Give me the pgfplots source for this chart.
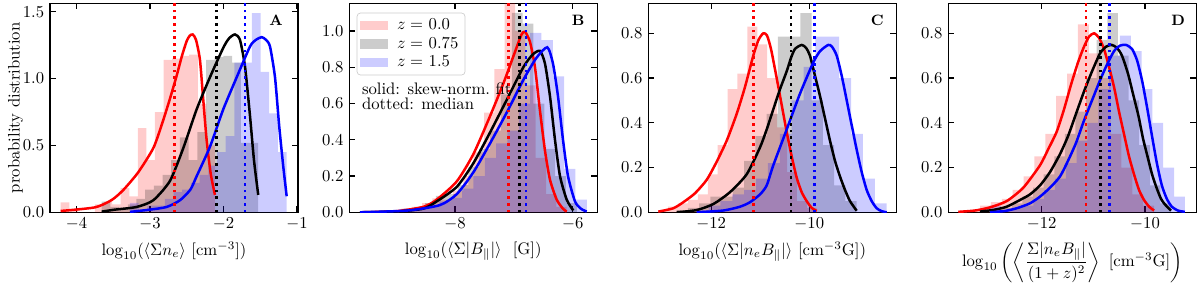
\documentclass[border=0pt]{standalone}
\usepackage{amsmath}
\usepackage{pgfplots}
\pgfplotsset{compat=1.18}
\begin{document}
\begin{tikzpicture}
\useasboundingbox (0,0) rectangle (720pt,169.2pt);
\pgfplotsset{
  every axis/.append style={
    scale only axis, width=148.8pt, height=125.4pt,
    anchor=south west, ymin=0,
    tick align=inside, major tick length=3.5pt,
    axis line style={line width=0.8pt},
    every tick/.style={black, line width=0.8pt},
    yticklabel style={/pgf/number format/.cd, fixed, fixed zerofill, precision=1},
  },
  hist/.style={const plot, draw=none, fill=#1, fill opacity=0.2, forget plot},
  fit/.style={#1, line width=1.5pt, smooth, tension=0.4, forget plot},
  med/.style={#1, line width=1.5pt, dash pattern=on 1.5pt off 2.5pt, forget plot},
}
% ---------------- Panel A ----------------
\begin{axis}[at={(30pt,41.82pt)}, xmin=-4.3605, xmax=-0.986, ymax=1.563,
  xtick={-4,-3,-2,-1}, ytick={0,0.5,1,1.5},
  xlabel={$\log_{10}(\langle\Sigma n_e\rangle\ [\mathrm{cm}^{-3}])$},
  ylabel={probability distribution}, ylabel shift=-7pt]
\addplot[hist=red] coordinates {(-4.215,0.075) (-4.098,0.02) (-3.982,0) (-3.865,0) (-3.749,0.06) (-3.632,0.08) (-3.516,0.06) (-3.399,0.18) (-3.282,0.12) (-3.166,0.63) (-3.049,0.39) (-2.933,0.75) (-2.816,1.14) (-2.699,1.15) (-2.583,1.17) (-2.466,1.18) (-2.350,0.81) (-2.233,0.5) (-2.116,0)} \closedcycle;
\addplot[hist=black] coordinates {(-3.657,0.08) (-3.539,0.04) (-3.420,0.03) (-3.302,0.06) (-3.184,0.1) (-3.065,0.17) (-2.947,0.2) (-2.829,0.28) (-2.711,0.39) (-2.592,0.56) (-2.474,0.39) (-2.356,0.6) (-2.237,1.14) (-2.119,1.16) (-2.001,1.17) (-1.882,1.12) (-1.764,0.52) (-1.646,0.52) (-1.527,0)} \closedcycle;
\addplot[hist=blue] coordinates {(-3.272,0.07) (-3.154,0.02) (-3.035,0.05) (-2.917,0.05) (-2.798,0.1) (-2.680,0.15) (-2.562,0.17) (-2.443,0.22) (-2.325,0.28) (-2.206,0.35) (-2.088,0.45) (-1.970,0.57) (-1.851,1.12) (-1.733,1.12) (-1.614,1.49) (-1.496,1.05) (-1.378,0.74) (-1.259,0.45) (-1.141,0)} \closedcycle;
\addplot[fit=red] coordinates {(-4.215,0.01) (-3.748,0.037) (-3.521,0.092) (-3.363,0.167) (-3.159,0.30) (-2.955,0.48) (-2.837,0.66) (-2.728,0.85) (-2.633,1.03) (-2.565,1.17) (-2.501,1.28) (-2.46,1.32) (-2.419,1.33) (-2.374,1.29) (-2.320,1.14) (-2.275,0.84) (-2.229,0.54) (-2.174,0.29) (-2.116,0.13)};
\addplot[fit=black] coordinates {(-3.657,0.005) (-3.476,0.02) (-3.181,0.04) (-2.955,0.09) (-2.728,0.235) (-2.547,0.48) (-2.365,0.77) (-2.184,1.01) (-2.003,1.23) (-1.925,1.30) (-1.844,1.33) (-1.776,1.29) (-1.707,1.09) (-1.639,0.72) (-1.585,0.39) (-1.527,0.13)};
\addplot[fit=blue] coordinates {(-3.272,0.003) (-3.0,0.02) (-2.773,0.04) (-2.592,0.09) (-2.45,0.17) (-2.365,0.27) (-2.184,0.49) (-2.003,0.77) (-1.820,1.01) (-1.639,1.24) (-1.558,1.29) (-1.480,1.31) (-1.422,1.29) (-1.367,1.24) (-1.299,1.01) (-1.241,0.64) (-1.186,0.34) (-1.140,0.12)};
\addplot[med=red] coordinates {(-2.669,0) (-2.669,1.6)};
\addplot[med=black] coordinates {(-2.093,0) (-2.093,1.6)};
\addplot[med=blue] coordinates {(-1.707,0) (-1.707,1.6)};
\node[font=\small\bfseries] at (rel axis cs:0.912,0.917) {A};
\end{axis}
% ---------------- Panel B ----------------
\begin{axis}[at={(209.58pt,41.82pt)}, xmin=-9.796, xmax=-5.582, ymax=1.1526,
  xtick={-8,-6}, ytick={0,0.2,0.4,0.6,0.8,1.0},
  xlabel={$\log_{10}(\langle\Sigma|B_{\parallel}|\rangle\ \ [\mathrm{G}])$},
  legend style={at={(0.03,0.955)}, anchor=north west, font=\normalsize, draw=black!20, rounded corners=2pt, fill=white, inner xsep=2pt, inner ysep=1.5pt, row sep=-1.2pt, cells={anchor=west}},
  legend image code/.code={\path[#1, draw=none, sharp corners] (0pt,-2.8pt) rectangle (16.8pt,2.8pt); \path[draw=none, fill=none] (0pt,0pt) -- (20pt,0pt);}]
\addlegendimage{fill=red, fill opacity=0.2}
\addlegendentry{$z=$\ 0.0}
\addlegendimage{fill=black, fill opacity=0.2}
\addlegendentry{$z=$\ 0.75}
\addlegendimage{fill=blue, fill opacity=0.2}
\addlegendentry{$z=$\ 1.5}
\addplot[hist=red] coordinates {(-9.614,0.005) (-9.438,0) (-9.263,0.005) (-9.087,0.01) (-8.912,0.02) (-8.736,0.03) (-8.560,0.05) (-8.385,0.077) (-8.209,0.07) (-8.034,0.12) (-7.858,0.2) (-7.682,0.33) (-7.507,0.55) (-7.331,0.79) (-7.156,1.2) (-6.980,1.0) (-6.804,0.7) (-6.629,0.3) (-6.453,0.1) (-6.278,0.03) (-6.102,0)} \closedcycle;
\addplot[hist=black] coordinates {(-9.614,0.005) (-9.430,0) (-9.246,0.005) (-9.061,0.01) (-8.877,0.02) (-8.693,0.03) (-8.509,0.05) (-8.325,0.09) (-8.140,0.1) (-7.956,0.15) (-7.772,0.25) (-7.588,0.35) (-7.404,0.45) (-7.219,0.65) (-7.035,1.10) (-6.851,1.04) (-6.667,0.6) (-6.483,0.35) (-6.298,0.2) (-6.114,0.05) (-5.930,0)} \closedcycle;
\addplot[hist=blue] coordinates {(-9.614,0.005) (-9.421,0.005) (-9.229,0.01) (-9.036,0.01) (-8.843,0.02) (-8.651,0.03) (-8.458,0.04) (-8.265,0.06) (-8.072,0.08) (-7.880,0.13) (-7.687,0.2) (-7.494,0.3) (-7.302,0.38) (-7.109,0.45) (-6.916,0.6) (-6.724,0.99) (-6.531,0.95) (-6.338,0.75) (-6.145,0.24) (-5.953,0.07) (-5.760,0)} \closedcycle;
\addplot[fit=red] coordinates {(-9.614,0.0) (-9.0,0.006) (-8.539,0.03) (-8.311,0.07) (-7.971,0.17) (-7.689,0.32) (-7.405,0.53) (-7.179,0.71) (-6.952,0.91) (-6.87,0.98) (-6.811,0.996) (-6.726,0.94) (-6.641,0.80) (-6.556,0.56) (-6.471,0.34) (-6.386,0.18) (-6.272,0.07) (-6.165,0.02) (-6.102,0.004)};
\addplot[fit=black] coordinates {(-9.614,0.0) (-9.0,0.004) (-8.539,0.02) (-8.311,0.06) (-7.971,0.14) (-7.689,0.27) (-7.405,0.44) (-7.121,0.62) (-6.839,0.80) (-6.68,0.87) (-6.556,0.89) (-6.471,0.82) (-6.386,0.64) (-6.301,0.40) (-6.216,0.20) (-6.102,0.07) (-5.990,0.01)};
\addplot[fit=blue] coordinates {(-9.614,0.0) (-8.8,0.01) (-8.255,0.04) (-7.971,0.10) (-7.689,0.22) (-7.405,0.38) (-7.121,0.55) (-6.839,0.73) (-6.62,0.85) (-6.432,0.91) (-6.335,0.82) (-6.250,0.64) (-6.165,0.40) (-6.080,0.20) (-5.961,0.06) (-5.86,0.02) (-5.762,0.004)};
\addplot[med=red] coordinates {(-7.094,0) (-7.094,1.2)};
\addplot[med=black] coordinates {(-6.907,0) (-6.907,1.2)};
\addplot[med=blue] coordinates {(-6.794,0) (-6.794,1.2)};
\node[font=\small\bfseries] at (rel axis cs:0.923,0.92) {B};
\node[anchor=west, inner sep=0pt] at (rel axis cs:0.05,0.589) {solid: skew-norm.\ fit};
\node[anchor=west, inner sep=0pt] at (rel axis cs:0.05,0.518) {dotted: median};
\end{axis}
% ---------------- Panel C ----------------
\begin{axis}[at={(388.98pt,41.82pt)}, xmin=-13.282, xmax=-8.226, ymax=0.934,
  xtick={-12,-10}, ytick={0,0.2,0.4,0.6,0.8},
  xlabel={$\log_{10}(\langle\Sigma|n_eB_{\parallel}|\rangle\ [\mathrm{cm}^{-3}\mathrm{G}])$}]
\addplot[hist=red] coordinates {(-13.078,0.01) (-12.876,0.025) (-12.675,0.04) (-12.473,0.055) (-12.271,0.08) (-12.069,0.17) (-11.867,0.3) (-11.665,0.55) (-11.464,0.62) (-11.262,0.83) (-11.060,0.75) (-10.858,0.6) (-10.656,0.38) (-10.454,0.18) (-10.253,0.05) (-10.051,0.02) (-9.849,0)} \closedcycle;
\addplot[hist=black] coordinates {(-12.703,0.01) (-12.474,0.02) (-12.244,0.04) (-12.015,0.07) (-11.786,0.07) (-11.556,0.11) (-11.327,0.23) (-11.098,0.34) (-10.868,0.44) (-10.639,0.785) (-10.410,0.785) (-10.180,0.89) (-9.951,0.5) (-9.722,0.3) (-9.492,0.12) (-9.263,0.05) (-9.034,0)} \closedcycle;
\addplot[hist=blue] coordinates {(-12.296,0.01) (-12.054,0.03) (-11.812,0.05) (-11.570,0.08) (-11.327,0.1) (-11.085,0.15) (-10.843,0.22) (-10.601,0.35) (-10.359,0.5) (-10.117,0.65) (-9.875,0.785) (-9.633,0.785) (-9.391,0.6) (-9.149,0.35) (-8.906,0.15) (-8.664,0.04) (-8.422,0)} \closedcycle;
\addplot[fit=red] coordinates {(-13.078,0.003) (-12.773,0.018) (-12.569,0.045) (-12.330,0.085) (-12.092,0.145) (-11.902,0.22) (-11.684,0.32) (-11.480,0.44) (-11.311,0.56) (-11.142,0.70) (-11.036,0.77) (-10.938,0.80) (-10.862,0.79) (-10.781,0.73) (-10.665,0.60) (-10.563,0.48) (-10.461,0.36) (-10.359,0.25) (-10.257,0.155) (-10.155,0.09) (-10.053,0.05) (-9.951,0.02) (-9.849,0.006)};
\addplot[fit=black] coordinates {(-12.703,0.0) (-12.296,0.01) (-11.957,0.037) (-11.617,0.09) (-11.276,0.17) (-11.005,0.29) (-10.869,0.37) (-10.734,0.46) (-10.597,0.55) (-10.461,0.63) (-10.373,0.69) (-10.292,0.73) (-10.155,0.748) (-10.067,0.735) (-9.986,0.70) (-9.884,0.61) (-9.782,0.52) (-9.680,0.42) (-9.578,0.32) (-9.476,0.23) (-9.374,0.16) (-9.272,0.10) (-9.170,0.05) (-9.034,0.007)};
\addplot[fit=blue] coordinates {(-12.296,0.0) (-11.753,0.008) (-11.413,0.025) (-11.209,0.045) (-11.005,0.08) (-10.869,0.12) (-10.734,0.21) (-10.461,0.37) (-10.190,0.53) (-9.918,0.67) (-9.781,0.72) (-9.613,0.748) (-9.537,0.74) (-9.441,0.70) (-9.339,0.61) (-9.237,0.50) (-9.136,0.39) (-9.034,0.28) (-8.932,0.18) (-8.830,0.10) (-8.728,0.05) (-8.626,0.018) (-8.524,0.005) (-8.422,0.0)};
\addplot[med=red] coordinates {(-11.142,0) (-11.142,1)};
\addplot[med=black] coordinates {(-10.373,0) (-10.373,1)};
\addplot[med=blue] coordinates {(-9.891,0) (-9.891,1)};
\node[font=\small\bfseries] at (rel axis cs:0.923,0.92) {C};
\end{axis}
% ---------------- Panel D ----------------
\begin{axis}[at={(568.98pt,41.82pt)}, xmin=-13.808, xmax=-9.007, ymax=0.934,
  xtick={-12,-10}, ytick={0,0.2,0.4,0.6,0.8},
  xlabel={$\log_{10}\left(\left\langle\dfrac{\Sigma|n_eB_{\parallel}|}{(1+z)^2}\right\rangle\ [\mathrm{cm}^{-3}\mathrm{G}]\right)$}]
\addplot[hist=red] coordinates {(-13.615,0.005) (-13.404,0.01) (-13.194,0.03) (-12.983,0.045) (-12.773,0.06) (-12.562,0.1) (-12.352,0.16) (-12.141,0.25) (-11.930,0.35) (-11.720,0.52) (-11.509,0.62) (-11.299,0.84) (-11.088,0.71) (-10.878,0.6) (-10.667,0.35) (-10.456,0.2) (-10.246,0.08) (-10.035,0.03) (-9.824,0)} \closedcycle;
\addplot[hist=black] coordinates {(-13.195,0.005) (-12.990,0.01) (-12.784,0.02) (-12.579,0.04) (-12.373,0.07) (-12.168,0.11) (-11.963,0.17) (-11.757,0.25) (-11.552,0.35) (-11.346,0.45) (-11.141,0.6) (-10.935,0.77) (-10.730,0.89) (-10.525,0.7) (-10.319,0.5) (-10.114,0.3) (-9.908,0.12) (-9.703,0.04) (-9.497,0)} \closedcycle;
\addplot[hist=blue] coordinates {(-13.001,0.03) (-12.792,0.01) (-12.582,0.02) (-12.372,0.03) (-12.163,0.06) (-11.953,0.1) (-11.744,0.15) (-11.534,0.22) (-11.324,0.32) (-11.115,0.4) (-10.905,0.55) (-10.695,0.7) (-10.486,0.79) (-10.276,0.72) (-10.067,0.55) (-9.857,0.4) (-9.648,0.2) (-9.438,0.07) (-9.229,0)} \closedcycle;
\addplot[fit=red] coordinates {(-13.615,0.002) (-13.291,0.008) (-13.001,0.022) (-12.678,0.05) (-12.356,0.11) (-12.033,0.21) (-11.878,0.28) (-11.710,0.36) (-11.568,0.46) (-11.433,0.57) (-11.297,0.67) (-11.181,0.74) (-11.084,0.785) (-10.987,0.80) (-10.891,0.78) (-10.794,0.73) (-10.697,0.65) (-10.600,0.56) (-10.503,0.45) (-10.407,0.35) (-10.310,0.25) (-10.213,0.17) (-10.116,0.10) (-10.019,0.055) (-9.920,0.025) (-9.824,0.008)};
\addplot[fit=black] coordinates {(-13.195,0.003) (-12.905,0.012) (-12.678,0.025) (-12.420,0.055) (-12.227,0.08) (-12.033,0.12) (-11.839,0.18) (-11.646,0.26) (-11.491,0.34) (-11.336,0.44) (-11.181,0.54) (-11.026,0.63) (-10.871,0.71) (-10.755,0.74) (-10.645,0.748) (-10.543,0.735) (-10.446,0.70) (-10.330,0.62) (-10.233,0.53) (-10.126,0.43) (-10.039,0.33) (-9.952,0.25) (-9.864,0.17) (-9.777,0.11) (-9.690,0.06) (-9.613,0.035) (-9.497,0.008)};
\addplot[fit=blue] coordinates {(-13.001,0.0) (-12.711,0.006) (-12.484,0.018) (-12.227,0.04) (-12.033,0.07) (-11.839,0.11) (-11.646,0.16) (-11.491,0.23) (-11.336,0.31) (-11.181,0.41) (-11.026,0.50) (-10.871,0.59) (-10.736,0.66) (-10.600,0.72) (-10.484,0.745) (-10.368,0.748) (-10.252,0.73) (-10.155,0.68) (-10.058,0.59) (-9.961,0.47) (-9.864,0.34) (-9.771,0.22) (-9.674,0.12) (-9.577,0.06) (-9.481,0.025) (-9.364,0.008) (-9.229,0.002)};
\addplot[med=red] coordinates {(-11.142,0) (-11.142,1)};
\addplot[med=black] coordinates {(-10.858,0) (-10.858,1)};
\addplot[med=blue] coordinates {(-10.691,0) (-10.691,1)};
\node[font=\small\bfseries] at (rel axis cs:0.927,0.92) {D};
\end{axis}
\end{tikzpicture}
\end{document}
